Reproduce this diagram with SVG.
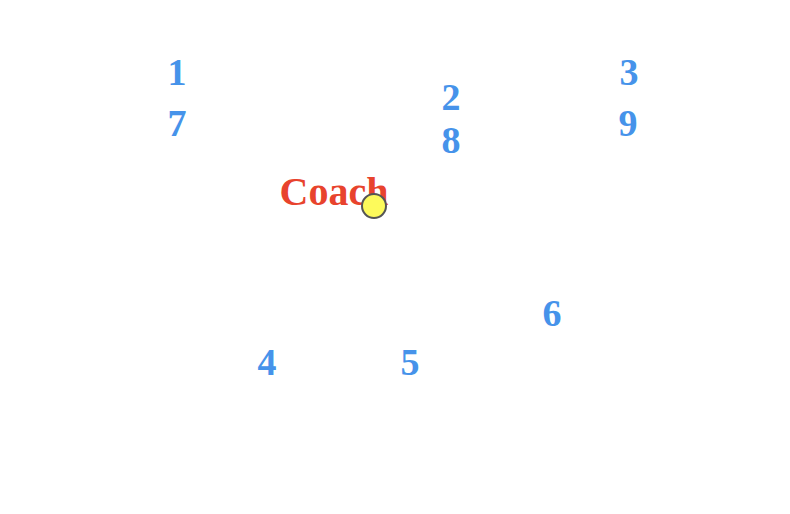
<svg xmlns="http://www.w3.org/2000/svg" width="790" height="514" viewBox="0 0 790 514">
<style>
.n{font-family:"Liberation Serif",serif;font-weight:bold;font-size:38px;fill:#4693ea;text-anchor:middle}
.c{font-family:"Liberation Serif",serif;font-weight:bold;font-size:40px;fill:#e8432d;text-anchor:middle}
</style>
<rect width="790" height="514" fill="#fff"/>
<g id="p1"><text class="n" x="177" y="85">1</text></g>
<g id="p7"><text class="n" x="177" y="136">7</text></g>
<g id="p2"><text class="n" x="451" y="110">2</text></g>
<g id="p8"><text class="n" x="451" y="153">8</text></g>
<g id="p3"><text class="n" x="629" y="85">3</text></g>
<g id="p9"><text class="n" x="628" y="136">9</text></g>
<g id="p6"><text class="n" x="552" y="326">6</text></g>
<g id="p4"><text class="n" x="267" y="375">4</text></g>
<g id="p5"><text class="n" x="410" y="375">5</text></g>
<g id="coach"><text class="c" x="334" y="205">Coach</text>
<circle cx="374" cy="206" r="12" fill="#fdfa5b" stroke="#555" stroke-width="2"/></g>
<g id="connectors"></g>
</svg>
